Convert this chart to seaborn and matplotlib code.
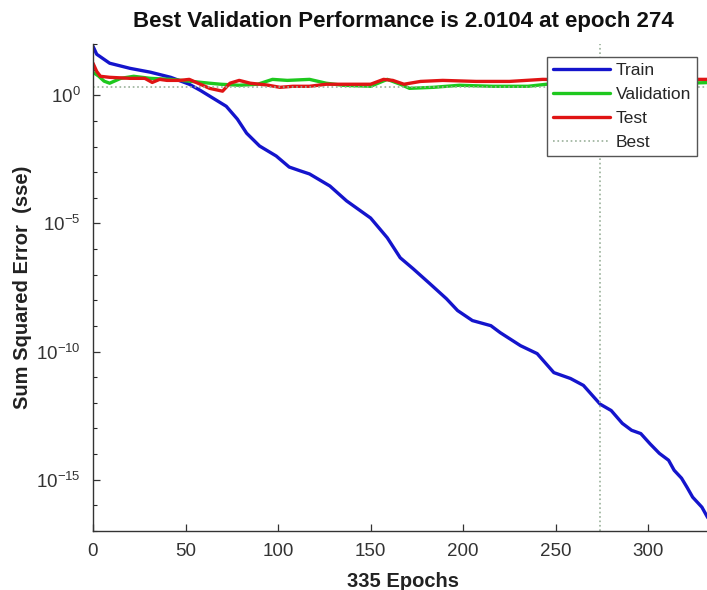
import numpy as np
import pandas as pd
import matplotlib
matplotlib.use("Agg")
import matplotlib.pyplot as plt
import matplotlib.ticker as mticker
import seaborn as sns

# values (log10 of sse at given epochs)
train_epochs = [0, 2, 9, 20, 31, 42, 52, 58, 65, 72, 78, 83, 90, 99, 106, 112, 117,
                128, 137, 150, 159, 166, 173, 182, 191, 197, 205, 215, 220, 231, 240,
                249, 258, 265, 274, 280, 286, 291, 296, 301, 306, 311, 314, 318, 321,
                324, 329, 332, 335]
train_log10 = [1.91, 1.6, 1.25, 1.05, 0.90, 0.70, 0.43, 0.19, -0.12, -0.43, -0.93, -1.48,
               -1.98, -2.37, -2.80, -2.95, -3.07, -3.54, -4.12, -4.79, -5.56, -6.34, -6.77,
               -7.35, -7.94, -8.40, -8.79, -8.99, -9.26, -9.77, -10.08, -10.82, -11.05,
               -11.32, -12.05, -12.30, -12.80, -13.07, -13.20, -13.60, -13.97, -14.24,
               -14.63, -14.94, -15.30, -15.68, -16.07, -16.46, -16.75]

val_epochs = [0, 3, 6, 9, 15, 22, 31, 42, 52, 63, 69, 79, 89, 97, 105, 117, 126, 135,
              150, 159, 166, 171, 184, 198, 216, 235, 245, 260, 274, 290, 310, 335]
val_log10 = [0.9, 0.75, 0.55, 0.47, 0.66, 0.74, 0.66, 0.62, 0.55, 0.47, 0.43, 0.39, 0.43,
             0.62, 0.58, 0.62, 0.47, 0.39, 0.35, 0.62, 0.43, 0.27, 0.31, 0.39, 0.35, 0.35,
             0.43, 0.40, 0.303, 0.40, 0.45, 0.50]

test_epochs = [0, 2, 4, 9, 20, 28, 32, 36, 40, 47, 52, 58, 63, 70, 74, 79, 85, 94, 101,
               108, 117, 126, 135, 150, 157, 162, 168, 177, 189, 207, 225, 243, 260, 280,
               300, 320, 335]
test_log10 = [1.25, 0.93, 0.74, 0.70, 0.66, 0.66, 0.50, 0.62, 0.58, 0.58, 0.62, 0.43, 0.27,
              0.16, 0.47, 0.58, 0.47, 0.40, 0.31, 0.35, 0.35, 0.43, 0.43, 0.43, 0.62, 0.58,
              0.43, 0.54, 0.58, 0.54, 0.54, 0.62, 0.60, 0.62, 0.60, 0.62, 0.62]

best_epoch = 274
best_perf = 2.0104
n_epochs = 335

df_train = pd.DataFrame({"epoch": train_epochs, "sse": np.power(10.0, train_log10)})
df_val = pd.DataFrame({"epoch": val_epochs, "sse": np.power(10.0, val_log10)})
df_test = pd.DataFrame({"epoch": test_epochs, "sse": np.power(10.0, test_log10)})

sns.set_style("white")
plt.rcParams['font.family'] = ['Liberation Sans', 'DejaVu Sans']

fig = plt.figure(figsize=(7.07, 5.9), dpi=100)
ax = fig.add_axes([93/707, 1 - 531/590, 620/707, 487/590])

sns.lineplot(data=df_train, x="epoch", y="sse", ax=ax, color="#1414cc", lw=2.4, label="Train")
sns.lineplot(data=df_val, x="epoch", y="sse", ax=ax, color="#1ec81e", lw=2.4, label="Validation")
sns.lineplot(data=df_test, x="epoch", y="sse", ax=ax, color="#e01414", lw=2.4, label="Test")
ax.axhline(best_perf, color="#9ab09a", ls=":", lw=1.2, label="Best")
ax.axvline(best_epoch, color="#9ab09a", ls=":", lw=1.2)

ax.set_yscale("log")
ax.set_xlim(0, n_epochs)
ax.set_ylim(1e-17, 1e2)
ax.xaxis.set_major_locator(mticker.FixedLocator([0, 50, 100, 150, 200, 250, 300]))
ax.yaxis.set_major_locator(mticker.FixedLocator([1e-15, 1e-10, 1e-5, 1e0]))
ax.yaxis.set_minor_locator(mticker.FixedLocator([10.0**k for k in range(-17, 3)]))
ax.yaxis.set_minor_formatter(mticker.NullFormatter())
ax.tick_params(axis="both", which="major", direction="in", length=5, width=0.9,
               labelsize=13.5, colors="#333333", pad=9)
ax.tick_params(axis="y", which="minor", direction="in", length=3, width=0.8, left=True)
ax.tick_params(axis="y", which="major", left=True)
ax.tick_params(axis="x", which="major", bottom=True)

for s in ["top", "right"]:
    ax.spines[s].set_visible(False)
for s in ["left", "bottom"]:
    ax.spines[s].set_color("#333333")
    ax.spines[s].set_linewidth(1.0)

ax.set_title("Best Validation Performance is 2.0104 at epoch 274",
             fontsize=16, fontweight="bold", pad=12, color="#111111")
ax.set_xlabel("335 Epochs", fontsize=14.5, fontweight="bold", color="#222222")
ax.set_ylabel("Sum Squared Error  (sse)", fontsize=14.5, fontweight="bold", color="#222222")
ax.xaxis.set_label_coords(0.5, -0.085)
ax.yaxis.set_label_coords(-0.098, 0.5)

leg = ax.legend(loc="upper right", bbox_to_anchor=(0.974, 0.973), fontsize=12.5,
                handlelength=3.3, handletextpad=0.3, borderpad=0.35, labelspacing=0.5,
                fancybox=False, framealpha=1, edgecolor="#555555", borderaxespad=0)
leg.get_frame().set_linewidth(1.0)

fig.savefig("out.png", dpi=100)
